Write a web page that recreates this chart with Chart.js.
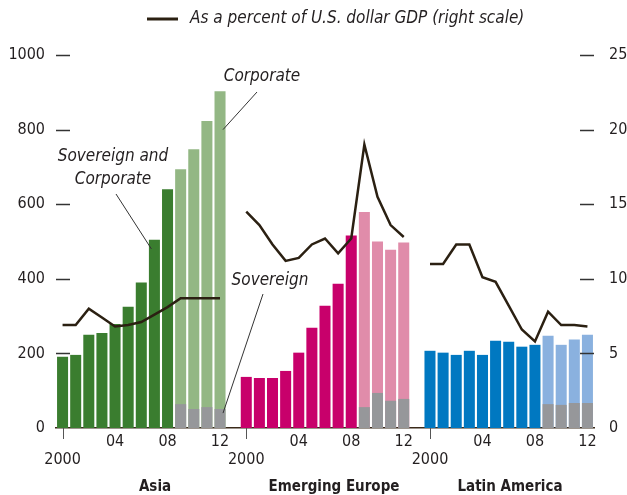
<!DOCTYPE html>
<html>
<head>
<meta charset="utf-8">
<script src="https://cdn.jsdelivr.net/npm/chart.js@4/dist/chart.umd.min.js"></script>
<style>
  html, body { margin: 0; padding: 0; background: #fff; }
  canvas { display: block; }
</style>
</head>
<body>
<canvas id="grafico" width="627" height="495"></canvas>
<script>
// Dados (bilhões de US$ e % do PIB)
const anos = [2000, 2001, 2002, 2003, 2004, 2005, 2006, 2007, 2008, 2009, 2010, 2011, 2012];
const regioes = ['Asia', 'Emerging Europe', 'Latin America'];

const asiaTotal = [191, 196, 250, 255, 279, 325, 390, 505, 640, 694, 747, 823, 903];
const asiaSoberano = [null, null, null, null, null, null, null, null, null, 64, 51, 56, 51];
const asiaPib = [6.9, 6.9, 8.0, 7.4, 6.8, 6.9, 7.1, 7.6, 8.1, 8.7, 8.7, 8.7, 8.7];

const europaTotal = [137, 134, 134, 153, 202, 269, 328, 387, 516, 579, 500, 478, 497];
const europaSoberano = [null, null, null, null, null, null, null, null, null, 56, 94, 73, 78];
const europaPib = [14.5, 13.6, 12.3, 11.2, 11.4, 12.3, 12.7, 11.7, 12.7, 19.0, 15.5, 13.6, 12.8];

const latamTotal = [207, 202, 196, 207, 196, 234, 231, 218, 223, 247, 223, 237, 250];
const latamSoberano = [null, null, null, null, null, null, null, null, null, 64, 62, 67, 67];
const latamPib = [11.0, 11.0, 12.3, 12.3, 10.1, 9.8, 8.2, 6.6, 5.8, 7.8, 6.9, 6.9, 6.8];

const eixoEsq = [0, 200, 400, 600, 800, 1000];
const eixoDir = [0, 5, 10, 15, 20, 25];

// cores
const corEscura = ['#3a7d2f', '#c8006b', '#0078c1'];
const corClara = ['#93b784', '#e08caa', '#8ab1df'];
const corCinza = '#96979a';
const corLinha = '#2b2012';
const corTexto = '#231f20';
const fonte = "'Liberation Sans Narrow', 'DejaVu Sans Condensed', 'Arial Narrow', sans-serif";

// junta as três regiões com uma posição vazia entre elas
function juntar(a, b, c) {
    return a.concat([null], b, [null], c);
}
const labels = juntar(anos, anos, anos).map(v => v === null ? '' : String(v));
const total = juntar(asiaTotal, europaTotal, latamTotal);
const soberano = juntar(asiaSoberano, europaSoberano, latamSoberano);
const pib = juntar(asiaPib, europaPib, latamPib);
const passo = anos.length + 1;

function corBarra(ctx) {
    const i = ctx.dataIndex;
    const r = Math.floor(i / passo);
    const ano = anos[i % passo];
    return ano >= 2009 ? corClara[r] : corEscura[r];
}

// plugin para traços dos eixos, legenda, anotações e nomes das regiões
const extras = {
    id: 'extras',
    afterDraw(chart) {
        const ctx = chart.ctx;
        const area = chart.chartArea;
        const x = chart.scales.x;
        const y = chart.scales.y;
        const y2 = chart.scales.y2;
        ctx.save();

        // traços dos eixos y (dentro da área)
        ctx.strokeStyle = '#333';
        ctx.lineWidth = 1.5;
        eixoEsq.forEach(v => {
            if (v === 0) return;
            const py = Math.round(y.getPixelForValue(v)) + 0.5;
            ctx.beginPath(); ctx.moveTo(area.left, py); ctx.lineTo(area.left + 14, py); ctx.stroke();
        });
        eixoDir.forEach(v => {
            if (v === 0) return;
            const py = Math.round(y2.getPixelForValue(v)) + 0.5;
            ctx.beginPath(); ctx.moveTo(area.right - 14, py); ctx.lineTo(area.right, py); ctx.stroke();
        });

        // marca do ano 2000 em cada região
        ctx.strokeStyle = '#555';
        ctx.lineWidth = 1;
        for (let r = 0; r < regioes.length; r++) {
            const px = Math.round(x.getPixelForValue(r * passo)) + 0.5;
            ctx.beginPath(); ctx.moveTo(px, area.bottom); ctx.lineTo(px, area.bottom + 11); ctx.stroke();
        }

        // nomes das regiões
        ctx.fillStyle = corTexto;
        ctx.font = 'bold 15px ' + fonte;
        ctx.textAlign = 'center';
        ctx.textBaseline = 'middle';
        const centros = [155, 334, 510];
        regioes.forEach((nome, r) => ctx.fillText(nome, centros[r], 487));

        // legenda
        ctx.strokeStyle = corLinha;
        ctx.lineWidth = 3;
        ctx.beginPath(); ctx.moveTo(147, 19); ctx.lineTo(178, 19); ctx.stroke();
        ctx.font = 'italic 17px ' + fonte;
        ctx.textAlign = 'left';
        ctx.fillStyle = corTexto;
        ctx.fillText('As a percent of U.S. dollar GDP (right scale)', 190, 19);

        // anotações
        ctx.textAlign = 'center';
        ctx.fillText('Corporate', 262, 77);
        ctx.fillText('Sovereign and', 113, 157);
        ctx.fillText('Corporate', 113, 180);
        ctx.fillText('Sovereign', 270, 281);

        ctx.strokeStyle = '#333';
        ctx.lineWidth = 1;
        const xAsia12 = x.getPixelForValue(12);
        const xAsia07 = x.getPixelForValue(7);
        ctx.beginPath(); ctx.moveTo(257, 92); ctx.lineTo(xAsia12 + 3, y.getPixelForValue(800)); ctx.stroke();
        ctx.beginPath(); ctx.moveTo(116, 194); ctx.lineTo(xAsia07 - 3, y.getPixelForValue(480)); ctx.stroke();
        ctx.beginPath(); ctx.moveTo(263, 294); ctx.lineTo(xAsia12 + 3, y.getPixelForValue(40)); ctx.stroke();

        ctx.restore();
    }
};

new Chart(document.getElementById('grafico').getContext('2d'), {
    data: {
        labels: labels,
        datasets: [
            {
                type: 'line',
                label: 'As a percent of U.S. dollar GDP (right scale)',
                data: pib,
                yAxisID: 'y2',
                borderColor: corLinha,
                borderWidth: 2.5,
                pointRadius: 0,
                tension: 0,
                spanGaps: false,
                order: 0
            },
            {
                type: 'bar',
                label: 'Sovereign',
                data: soberano,
                yAxisID: 'y',
                backgroundColor: corCinza,
                grouped: false,
                barPercentage: 0.84,
                categoryPercentage: 1,
                order: 1
            },
            {
                type: 'bar',
                label: 'Sovereign and Corporate / Corporate',
                data: total,
                yAxisID: 'y',
                backgroundColor: corBarra,
                grouped: false,
                barPercentage: 0.84,
                categoryPercentage: 1,
                order: 2
            }
        ]
    },
    options: {
        responsive: false,
        animation: false,
        devicePixelRatio: 1,
        layout: { padding: { top: 55, left: 0, right: 0, bottom: 0 } },
        plugins: {
            legend: { display: false },
            tooltip: { enabled: false }
        },
        scales: {
            x: {
                type: 'category',
                offset: true,
                grid: { display: false, drawTicks: false },
                border: { display: true, color: '#3a2a1a', width: 1.5 },
                ticks: {
                    autoSkip: false,
                    maxRotation: 0,
                    padding: 5,
                    color: corTexto,
                    font: { family: fonte, size: 16, lineHeight: 1.1 },
                    callback: function (valor, i) {
                        const rotulo = labels[i];
                        if (rotulo === '2000') return ['', '2000'];
                        if (rotulo === '2004' || rotulo === '2008' || rotulo === '2012') return rotulo.slice(2);
                        return '';
                    }
                },
                afterFit: function (s) { s.height = 67; }
            },
            y: {
                position: 'left',
                min: 0,
                max: 1000,
                grid: { display: false },
                border: { display: false },
                ticks: {
                    stepSize: 200,
                    padding: 3,
                    color: corTexto,
                    font: { family: fonte, size: 16 },
                    callback: v => String(v)
                },
                afterFit: function (s) { s.width = 56; }
            },
            y2: {
                position: 'right',
                min: 0,
                max: 25,
                grid: { display: false },
                border: { display: false },
                ticks: {
                    stepSize: 5,
                    padding: 7,
                    color: corTexto,
                    font: { family: fonte, size: 16 },
                    callback: v => String(v)
                },
                afterFit: function (s) { s.width = 33; }
            }
        }
    },
    plugins: [extras]
});
</script>
</body>
</html>
